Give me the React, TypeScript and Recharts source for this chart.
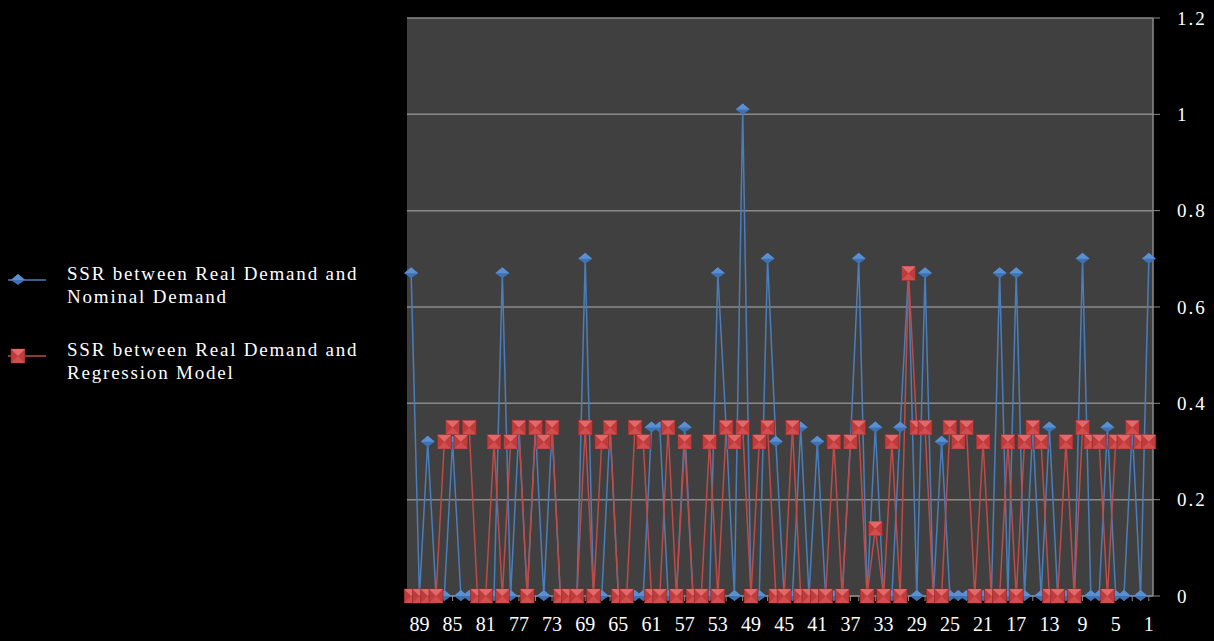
import React from 'react';
import { LineChart, Line, XAxis, YAxis, CartesianGrid } from 'recharts';

// category labels, listed as drawn (reversed order)
const categories = [
  '90', '89', '88', '87', '86', '85', '84', '83', '82', '81',
  '80', '79', '78', '77', '76', '75', '74', '73', '72', '71',
  '70', '69', '68', '67', '66', '65', '64', '63', '62', '61',
  '60', '59', '58', '57', '56', '55', '54', '53', '52', '51',
  '50', '49', '48', '47', '46', '45', '44', '43', '42', '41',
  '40', '39', '38', '37', '36', '35', '34', '33', '32', '31',
  '30', '29', '28', '27', '26', '25', '24', '23', '22', '21',
  '20', '19', '18', '17', '16', '15', '14', '13', '12', '11',
  '10', '9', '8', '7', '6', '5', '4', '3', '2', '1',
];

const shownLabels = ['89', '85', '81', '77', '73', '69', '65', '61', '57', '53', '49', '45', '41', '37', '33', '29', '25', '21', '17', '13', '9', '5', '1'];

const nominalSSR = [
  0.67, 0, 0.32, 0, 0, 0.32, 0, 0, 0, 0,
  0, 0.67, 0, 0.35, 0, 0.35, 0, 0.35, 0, 0,
  0, 0.7, 0, 0, 0.35, 0, 0, 0, 0, 0.35,
  0.35, 0, 0, 0.35, 0, 0, 0, 0.67, 0.35, 0,
  1.01, 0, 0, 0.7, 0.32, 0, 0, 0.35, 0, 0.32,
  0, 0, 0, 0.32, 0.7, 0, 0.35, 0, 0, 0.35,
  0.67, 0, 0.67, 0, 0.32, 0, 0, 0, 0, 0,
  0, 0.67, 0, 0.67, 0, 0.35, 0, 0.35, 0, 0,
  0, 0.7, 0, 0, 0.35, 0, 0, 0.35, 0, 0.7,
];

const regressionSSR = [
  0, 0, 0, 0, 0.32, 0.35, 0.32, 0.35, 0, 0,
  0.32, 0, 0.32, 0.35, 0, 0.35, 0.32, 0.35, 0, 0,
  0, 0.35, 0, 0.32, 0.35, 0, 0, 0.35, 0.32, 0,
  0, 0.35, 0, 0.32, 0, 0, 0.32, 0, 0.35, 0.32,
  0.35, 0, 0.32, 0.35, 0, 0, 0.35, 0, 0, 0,
  0, 0.32, 0, 0.32, 0.35, 0, 0.14, 0, 0.32, 0,
  0.67, 0.35, 0.35, 0, 0, 0.35, 0.32, 0.35, 0, 0.32,
  0, 0, 0.32, 0, 0.32, 0.35, 0.32, 0, 0, 0.32,
  0, 0.35, 0.32, 0.32, 0, 0.32, 0.32, 0.35, 0.32, 0.32,
];

const yTicks = [0, 0.2, 0.4, 0.6, 0.8, 1, 1.2];

const BLUE = '#4a7ebb';
const RED = '#be4b48';
const FONT = '"Liberation Serif", "DejaVu Serif", serif';

const data = categories.map((c, i) => ({
  cat: c,
  nominal: nominalSSR[i],
  regression: regressionSSR[i],
}));

function Diamond(props: any) {
  const { cx, cy } = props;
  if (cx == null || cy == null) return null;
  return (
    <g>
      <polygon points={`${cx},${cy - 6} ${cx + 7},${cy} ${cx},${cy + 5} ${cx - 7},${cy}`} fill="#3d72b4" />
      <polygon points={`${cx},${cy - 6} ${cx + 7},${cy} ${cx - 7},${cy}`} fill="#5b8fd0" />
    </g>
  );
}

function Square(props: any) {
  const { cx, cy } = props;
  if (cx == null || cy == null) return null;
  const s = 7;
  return (
    <g>
      <rect x={cx - s} y={cy - s} width={2 * s} height={2 * s} fill="#c03b3b" stroke="#8a2626" strokeWidth={0.6} />
      <polygon points={`${cx - s},${cy - s} ${cx + s},${cy - s} ${cx},${cy}`} fill="#e06a6a" />
      <polygon points={`${cx - s},${cy + s} ${cx + s},${cy + s} ${cx},${cy}`} fill="#d24e4e" />
    </g>
  );
}

function LegendItem({ color, marker, lines, top }: { color: string; marker: 'diamond' | 'square'; lines: string[]; top: number }) {
  return (
    <div style={{ position: 'absolute', left: 0, top, width: 400 }}>
      <svg width={50} height={20} style={{ position: 'absolute', left: 6, top: 2 }}>
        <line x1={2} y1={10} x2={40} y2={10} stroke={color} strokeWidth={1.5} />
        {marker === 'diamond' ? <Diamond cx={12} cy={10} /> : <Square cx={12} cy={10} />}
      </svg>
      <div style={{ position: 'absolute', left: 67, top: -6, color: '#fff', fontFamily: FONT, fontSize: 19, lineHeight: '23px', letterSpacing: 1.8, whiteSpace: 'nowrap' }}>
        {lines.map((l) => <div key={l}>{l}</div>)}
      </div>
    </div>
  );
}

export default function App() {
  return (
    <div style={{ position: 'fixed', left: 0, top: 0, width: 1214, height: 641, background: '#000', overflow: 'hidden' }}>
      <LineChart width={1214} height={641} data={data} margin={{ top: 18, right: 0, left: 407, bottom: 0 }}>
        <CartesianGrid vertical={false} fill="#404040" stroke="#8a8a8a" strokeWidth={1.5} />
        <XAxis
          dataKey="cat"
          interval={0}
          height={45}
          padding={{ left: 4.15, right: 4.15 }}
          tickFormatter={(v: string) => (shownLabels.includes(v) ? v : '')}
          tick={{ fill: '#fff', fontFamily: FONT, fontSize: 20 }}
          tickSize={5}
          tickMargin={16}
          stroke="#8a8a8a"
        />
        <YAxis
          orientation="right"
          width={61}
          domain={[0, 1.2]}
          ticks={yTicks}
          tickFormatter={(v: number) => String(Math.round(v * 10) / 10)}
          tick={{ fill: '#fff', fontFamily: FONT, fontSize: 19, letterSpacing: 2 }}
          tickSize={7}
          tickMargin={17}
          stroke="#8a8a8a"
          axisLine={{ stroke: '#8a8a8a', strokeWidth: 1.5 }}
        />
        <Line dataKey="nominal" stroke={BLUE} strokeWidth={1.5} dot={<Diamond />} isAnimationActive={false} />
        <Line dataKey="regression" stroke={RED} strokeWidth={1.5} dot={<Square />} isAnimationActive={false} />
      </LineChart>
      <LegendItem color={BLUE} marker="diamond" lines={['SSR between Real Demand and', 'Nominal Demand']} top={268} />
      <LegendItem color={RED} marker="square" lines={['SSR between Real Demand and', 'Regression Model']} top={344} />
    </div>
  );
}
